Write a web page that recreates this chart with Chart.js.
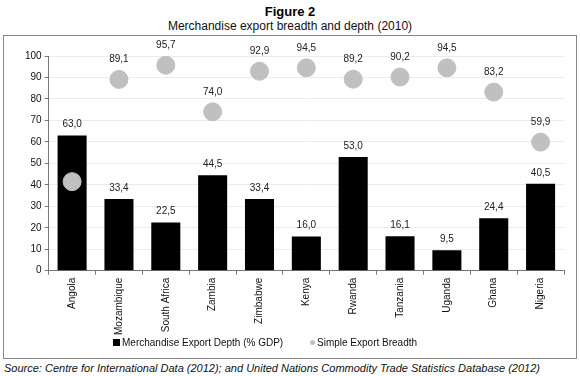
<!DOCTYPE html>
<html>
<head>
<meta charset="utf-8">
<script src="https://cdn.jsdelivr.net/npm/chart.js@4"></script>
<style>
  body { margin: 0; width: 580px; height: 376px; background: #fff; font-family: "Liberation Sans", Arial, sans-serif; position: relative; overflow: hidden; }
  #title { position: absolute; top: 4px; left: 0; width: 580px; text-align: center; font-weight: bold; font-size: 13px; color: #000; }
  #subtitle { position: absolute; top: 19px; left: 0; width: 580px; text-align: center; font-size: 12px; color: #111; }
  #box { position: absolute; left: 3px; top: 35px; width: 572px; height: 322px; border: 1px solid #888; }
  #source { position: absolute; left: 4px; top: 362px; font-style: italic; font-size: 11px; color: #111; }
  .leg { position: absolute; top: 337px; font-size: 10px; color: #111; white-space: nowrap; }
  .leg i { display: inline-block; vertical-align: middle; margin-right: 2px; position: relative; top: -1px; }
  #leg1 { left: 113px; }
  #leg1 i { width: 7px; height: 7px; background: #000; }
  #leg2 { left: 310px; }
  #leg2 i { width: 5px; height: 5px; border-radius: 50%; background: #c0c0c0; }
</style>
</head>
<body>
<div id="title">Figure 2</div>
<div id="subtitle">Merchandise export breadth and depth (2010)</div>
<div id="box"><canvas id="chart" width="572" height="322"></canvas></div>
<div class="leg" id="leg1"><i></i>Merchandise Export Depth (% GDP)</div>
<div class="leg" id="leg2"><i></i>Simple Export Breadth</div>
<div id="source">Source: Centre for International Data (2012); and United Nations Commodity Trade Statistics Database (2012)</div>
<script>
const countries = ["Angola", "Mozambique", "South Africa", "Zambia", "Zimbabwe", "Kenya", "Rwanda", "Tanzania", "Uganda", "Ghana", "Nigeria"];
const exportDepth = [63.0, 33.4, 22.5, 44.5, 33.4, 16.0, 53.0, 16.1, 9.5, 24.4, 40.5];
const exportBreadth = [41.5, 89.1, 95.7, 74.0, 92.9, 94.5, 89.2, 90.2, 94.5, 83.2, 59.9];
const yTicks = [0, 10, 20, 30, 40, 50, 60, 70, 80, 90, 100];

const fmt = v => v.toFixed(1).replace(".", ",");

const valueLabels = {
  id: "valueLabels",
  afterDatasetsDraw(chart) {
    const ctx = chart.ctx;
    ctx.save();
    ctx.font = "10px 'Liberation Sans', Arial, sans-serif";
    ctx.textAlign = "center";
    ctx.textBaseline = "bottom";
    chart.getDatasetMeta(0).data.forEach((bar, i) => {
      ctx.fillStyle = "#222";
      ctx.fillText(fmt(exportDepth[i]), bar.x, bar.y - 6);
    });
    chart.getDatasetMeta(1).data.forEach((pt, i) => {
      // Angola's label sits inside the black bar, so it disappears there
      ctx.fillStyle = i === 0 ? "#000" : "#222";
      ctx.fillText(fmt(exportBreadth[i]), pt.x, pt.y - 15);
    });
    ctx.restore();
  }
};

new Chart(document.getElementById("chart"), {
  type: "bar",
  data: {
    labels: countries,
    datasets: [
      {
        label: "Merchandise Export Depth (% GDP)",
        data: exportDepth,
        backgroundColor: "#000",
        borderColor: "#000",
        categoryPercentage: 1.0,
        barPercentage: 0.62,
        order: 1
      },
      {
        type: "line",
        label: "Simple Export Breadth",
        data: exportBreadth,
        showLine: false,
        pointRadius: 9,
        pointBackgroundColor: "#c0c0c0",
        pointBorderColor: "#c0c0c0",
        backgroundColor: "#c0c0c0",
        borderColor: "#c0c0c0",
        order: 0
      }
    ]
  },
  options: {
    animation: false,
    responsive: false,
    layout: { padding: { top: 20, right: 12, left: 18, bottom: 20 } },
    plugins: {
      tooltip: { enabled: false },
      legend: { display: false }
    },
    scales: {
      x: {
        grid: { drawOnChartArea: false, tickLength: 4, color: "#777" },
        border: { color: "#777" },
        ticks: {
          maxRotation: 90,
          minRotation: 90,
          color: "#111",
          font: { size: 10, family: "'Liberation Sans', Arial, sans-serif" }
        }
      },
      y: {
        min: 0,
        max: 100,
        afterBuildTicks(axis) { axis.ticks = yTicks.map(v => ({ value: v })); },
        grid: { color: "#ebebeb", tickLength: 4, tickColor: "#777" },
        border: { color: "#777" },
        ticks: {
          color: "#111",
          padding: 3,
          font: { size: 10, family: "'Liberation Sans', Arial, sans-serif" }
        }
      }
    }
  },
  plugins: [valueLabels]
});
</script>
</body>
</html>
